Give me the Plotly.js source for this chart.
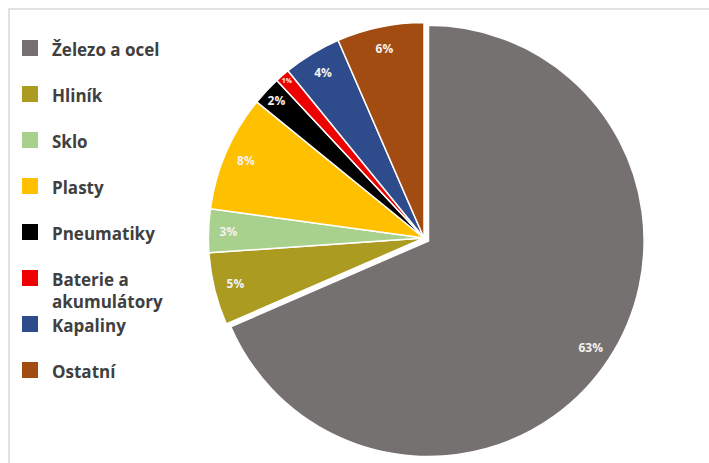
<!DOCTYPE html>
<html>
<head>
<meta charset="utf-8">
<script src="https://cdn.plot.ly/plotly-3.0.1.min.js"></script>
<style>html,body{margin:0;padding:0;background:#fff;}#chart{width:709px;height:463px;}</style>
</head>
<body>
<div id="chart"></div>
<script>
// Data
const labels = ["Železo a ocel", "Hliník", "Sklo", "Plasty", "Pneumatiky", "Baterie a<br>akumulátory", "Kapaliny", "Ostatní"];
const values = [63, 5, 3, 8, 2, 1, 4, 6];
const colors = ["#767171", "#ab9b20", "#a9d18e", "#ffc000", "#000000", "#ee0000", "#2e4b8b", "#a24c12"];
const pulls = [0.025, 0, 0, 0, 0, 0, 0, 0];

const W = 709, H = 463;
const px = x => x / W;
const py = y => 1 - y / H;
const dom = { x: [px(203), px(645)], y: [py(459), py(17)] };

// main pie (slices)
const pieTrace = {
  type: "pie",
  labels: labels,
  values: values,
  sort: false,
  direction: "clockwise",
  rotation: 0,
  pull: pulls,
  marker: { colors: colors, line: { color: "#ffffff", width: 1.5 } },
  textinfo: "none",
  hoverinfo: "label+value",
  showlegend: false,
  domain: dom
};

// same pie as a transparent ring, only to place the labels near the rim
const labelTrace = {
  type: "pie",
  labels: labels,
  values: values,
  sort: false,
  direction: "clockwise",
  rotation: 0,
  pull: pulls,
  hole: 0.8,
  marker: { colors: colors.map(() => "rgba(0,0,0,0)"), line: { width: 0 } },
  texttemplate: "%{value}%",
  textposition: "inside",
  insidetextorientation: "horizontal",
  textfont: { family: "Open Sans", size: 12, color: "#f2f2f2", weight: "bold" },
  hoverinfo: "skip",
  showlegend: false,
  domain: dom
};

const annotations = [];
const shapes = [
  { type: "rect", xref: "paper", yref: "paper", x0: px(9), x1: px(760), y0: py(520), y1: py(9),
    line: { color: "#d9d9d9", width: 1.5 }, fillcolor: "rgba(0,0,0,0)", layer: "below" }
];
labels.forEach((lab, i) => {
  const yc = 48 + 46 * i;
  annotations.push({
    xref: "paper", yref: "paper", x: px(50), y: py(yc - 12), xanchor: "left", yanchor: "top",
    text: lab, showarrow: false, align: "left",
    font: { family: "Open Sans", size: 17, color: "#404040", weight: "bold" }
  });
  shapes.push({
    type: "rect", xref: "paper", yref: "paper", x0: px(22), x1: px(38), y0: py(yc + 8), y1: py(yc - 8),
    fillcolor: colors[i], line: { width: 0 }
  });
});

const layout = {
  width: W, height: H,
  margin: { l: 0, r: 0, t: 0, b: 0 },
  paper_bgcolor: "#ffffff",
  showlegend: false,
  annotations: annotations,
  shapes: shapes
};

Plotly.newPlot("chart", [pieTrace, labelTrace], layout, { displayModeBar: false, staticPlot: true });
</script>
</body>
</html>
